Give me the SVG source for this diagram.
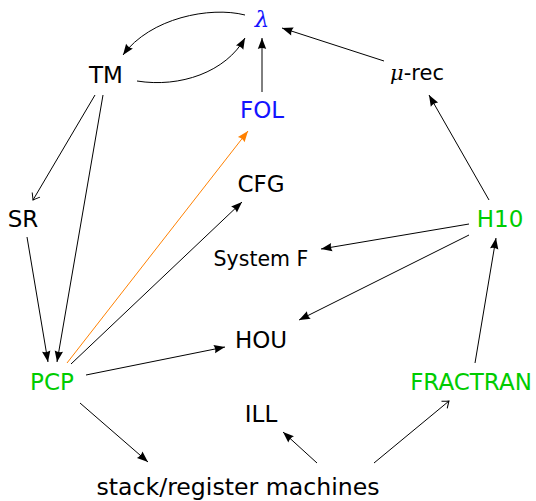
<svg xmlns="http://www.w3.org/2000/svg" width="536" height="501" viewBox="0 0 536 501">
<style>
text{font-family:"DejaVu Sans","Liberation Sans",sans-serif;font-size:23px;text-anchor:middle;fill:#000}
.blue{fill:#1414ff}
.green{fill:#00cc00}
.math{font-family:"DejaVu Serif","Liberation Serif",serif;font-style:italic}
.e{fill:none;stroke:#000;stroke-width:1}
.o{fill:none;stroke:#ff8000;stroke-width:1}
</style>
<defs>
<marker id="ah" markerUnits="userSpaceOnUse" viewBox="-12 -6 13 12" refX="0" refY="0" markerWidth="13" markerHeight="12" orient="auto" overflow="visible">
<path d="M0,0 L-11,-4.2 Q-9,0 -11,4.2 Z" fill="#000"/>
</marker>
<marker id="aho" markerUnits="userSpaceOnUse" viewBox="-12 -6 13 12" refX="0" refY="0" markerWidth="13" markerHeight="12" orient="auto" overflow="visible">
<path d="M0,0 L-11,-4.2 Q-9,0 -11,4.2 Z" fill="#ff8000"/>
</marker>
<marker id="to" markerUnits="userSpaceOnUse" viewBox="-8 -6 9 12" refX="0" refY="0" markerWidth="9" markerHeight="12" orient="auto" overflow="visible">
<path d="M-6,-4.5 Q-1.5,-1 0,0 Q-1.5,1 -6,4.5" fill="none" stroke="#000" stroke-width="1"/>
</marker>
</defs>
<g id="connectors">
<path class="e" d="M245,15 C210,6 150,18 123,55" marker-end="url(#ah)"/>
<path class="e" d="M137,81 C180,88 226,72 245,38" marker-end="url(#ah)"/>
<path class="e" d="M262,92 L262,38" marker-end="url(#ah)"/>
<path class="e" d="M384,61 L282,28" marker-end="url(#ah)"/>
<path class="e" d="M489,200 L429,95" marker-end="url(#ah)"/>
<path class="e" d="M95,95 L33,200" marker-end="url(#to)"/>
<path class="e" d="M103,95 L57,362" marker-end="url(#ah)"/>
<path class="e" d="M27,237 L48,362" marker-end="url(#ah)"/>
<path class="o" d="M67,363 L248,131" marker-end="url(#aho)"/>
<path class="e" d="M71,364 L242,202" marker-end="url(#ah)"/>
<path class="e" d="M86,375 L225,347" marker-end="url(#ah)"/>
<path class="e" d="M80,403 L148,462" marker-end="url(#ah)"/>
<path class="e" d="M469,224 L321,249" marker-end="url(#ah)"/>
<path class="e" d="M469,235 L299,320" marker-end="url(#ah)"/>
<path class="e" d="M475,363 L496,238" marker-end="url(#ah)"/>
<path class="e" d="M374,463 L449,401" marker-end="url(#to)"/>
<path class="e" d="M317,463 L283,432" marker-end="url(#ah)"/>
</g>
<g id="lambda"><text class="blue math" x="262" y="27">λ</text></g>
<g id="TM"><text x="106" y="83">TM</text></g>
<g id="murec"><text x="417" y="80" style="font-size:21px"><tspan class="math">μ</tspan>-rec</text></g>
<g id="FOL"><text class="blue" x="262" y="118">FOL</text></g>
<g id="CFG"><text x="261" y="192">CFG</text></g>
<g id="SR"><text x="23" y="227">SR</text></g>
<g id="H10"><text class="green" x="500" y="227">H10</text></g>
<g id="SystemF"><text x="261" y="266" style="font-size:20.5px">System F</text></g>
<g id="HOU"><text x="261" y="348">HOU</text></g>
<g id="PCP"><text class="green" x="52" y="390">PCP</text></g>
<g id="FRACTRAN"><text class="green" x="471" y="390">FRACTRAN</text></g>
<g id="ILL"><text x="261" y="422">ILL</text></g>
<g id="stack"><text x="238" y="495" textLength="283" lengthAdjust="spacingAndGlyphs">stack/register machines</text></g>
</svg>
